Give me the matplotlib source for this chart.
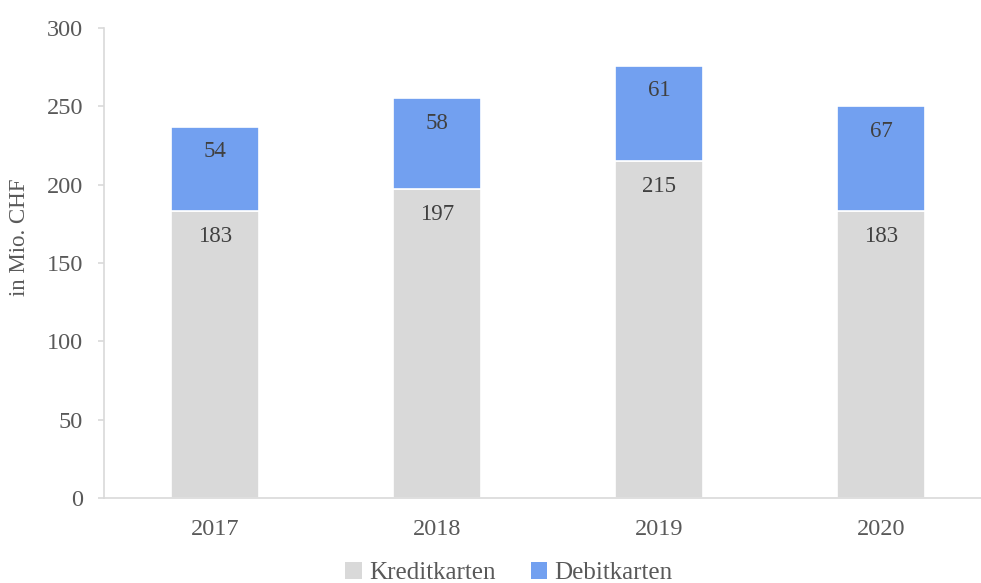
import matplotlib.pyplot as plt
from matplotlib.patches import Patch

# Daten
jahre = ["2017", "2018", "2019", "2020"]
kreditkarten = [183, 197, 215, 183]
debitkarten = [54, 58, 61, 67]

grau = "#d9d9d9"
blau = "#72a0f0"
text_farbe = "#595959"

plt.rcParams["font.family"] = ["Liberation Serif", "DejaVu Serif"]

fig = plt.figure(figsize=(9.81, 5.83), dpi=100)
ax = fig.add_axes([104 / 981, 1 - 498 / 583, (981 - 104) / 981, (498 - 28) / 583])

x = list(range(len(jahre)))
ax.bar(x, kreditkarten, width=0.4, color=grau, edgecolor="white", linewidth=1.2)
ax.bar(x, debitkarten, width=0.4, bottom=kreditkarten, color=blau,
       edgecolor="white", linewidth=1.2)

# Beschriftungen innen oben
for i in x:
    ax.annotate(str(kreditkarten[i]), (i, kreditkarten[i]), xytext=(0, -18),
                textcoords="offset points", ha="center", va="center",
                fontsize=16.5, color="#404040")
    top = kreditkarten[i] + debitkarten[i]
    ax.annotate(str(debitkarten[i]), (i, top), xytext=(0, -18),
                textcoords="offset points", ha="center", va="center",
                fontsize=16.5, color="#404040")

ax.set_ylim(0, 300)
ax.set_yticks(range(0, 301, 50))
ax.set_xlim(-0.5, 3.45)
ax.set_xticks(x)
ax.set_xticklabels(jahre)

for s in ["top", "right"]:
    ax.spines[s].set_visible(False)
ax.spines["left"].set_color(grau)
ax.spines["bottom"].set_color(grau)
ax.spines["left"].set_linewidth(1.2)
ax.spines["bottom"].set_linewidth(1.2)

ax.tick_params(axis="y", length=4, color=grau, width=1.2, pad=11,
               labelsize=17.5, labelcolor=text_farbe)
ax.tick_params(axis="x", length=0, pad=15, labelsize=17.5, labelcolor=text_farbe)

fig.text(20 / 981, 1 - 237 / 583, "in Mio. CHF", rotation=90, ha="center",
         va="center", fontsize=16.5, color=text_farbe)

handles = [Patch(facecolor=grau, label="Kreditkarten"),
           Patch(facecolor=blau, label="Debitkarten")]
fig.legend(handles=handles, loc="center", bbox_to_anchor=(509 / 981, 1 - 573 / 583),
           ncol=2, frameon=False, fontsize=18, handlelength=0.65, handleheight=0.65,
           handletextpad=0.3, columnspacing=1.4, labelcolor=text_farbe)

fig.savefig("out.png", dpi=100)
